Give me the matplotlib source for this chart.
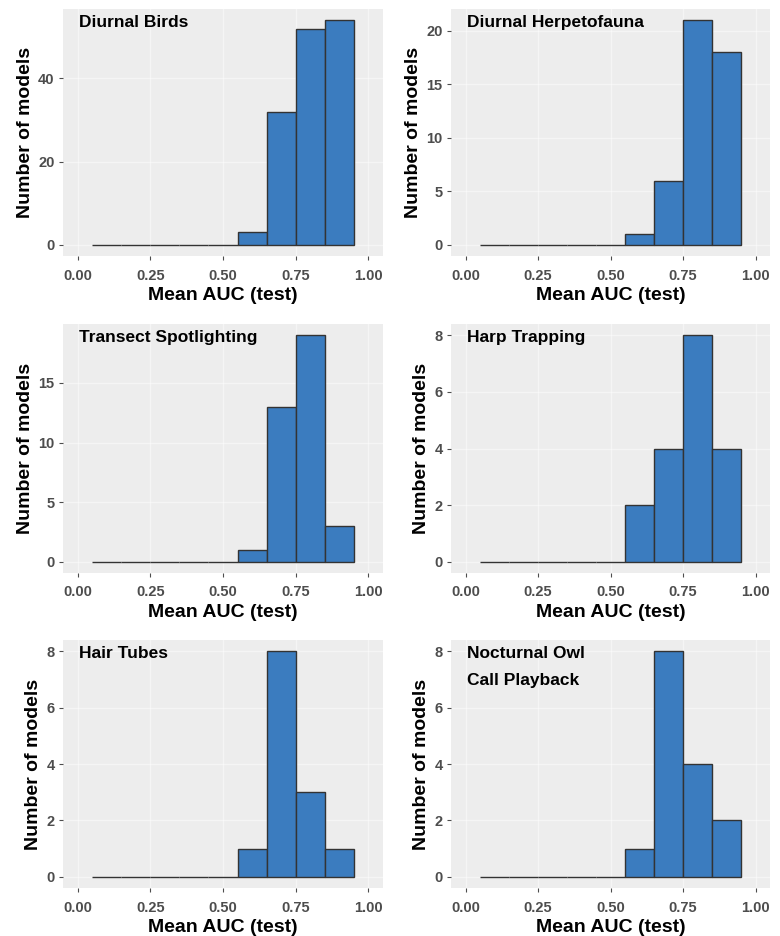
import numpy as np
import matplotlib
matplotlib.use("Agg")
import matplotlib.pyplot as plt

plt.rcParams['font.family'] = ['Liberation Sans', 'DejaVu Sans']

# histogram bins: width 0.1, centred on 0.1 ... 0.9
bin_centers = [0.1, 0.2, 0.3, 0.4, 0.5, 0.6, 0.7, 0.8, 0.9]

diurnal_birds = [0, 0, 0, 0, 0, 3, 32, 52, 54]
diurnal_herps = [0, 0, 0, 0, 0, 1, 6, 21, 18]
transect_spot = [0, 0, 0, 0, 0, 1, 13, 19, 3]
harp_trapping = [0, 0, 0, 0, 0, 2, 4, 8, 4]
hair_tubes = [0, 0, 0, 0, 0, 1, 8, 3, 1]
owl_playback = [0, 0, 0, 0, 0, 1, 8, 4, 2]

titles = ["Diurnal Birds", "Diurnal Herpetofauna", "Transect Spotlighting",
          "Harp Trapping", "Hair Tubes", "Nocturnal Owl\nCall Playback"]
counts = [diurnal_birds, diurnal_herps, transect_spot,
          harp_trapping, hair_tubes, owl_playback]
y_ticks = [[0, 20, 40], [0, 5, 10, 15, 20], [0, 5, 10, 15],
           [0, 2, 4, 6, 8], [0, 2, 4, 6, 8], [0, 2, 4, 6, 8]]
x_ticks = [0.0, 0.25, 0.5, 0.75, 1.0]
x_ticklabels = ["0.00", "0.25", "0.50", "0.75", "1.00"]

W, H = 780, 936
fig = plt.figure(figsize=(W / 100, H / 100), dpi=100)

# panel boxes in pixels: (left, top, right, bottom)
cols = [(63, 383), (451, 770)]
rows = [(9, 256), (324, 573), (640, 888)]

for i, (title, c) in enumerate(zip(titles, counts)):
    l, r = cols[i % 2]
    t, b = rows[i // 2]
    ax = fig.add_axes([l / W, 1 - b / H, (r - l) / W, (b - t) / H])
    ax.set_facecolor("#ededed")
    for s in ax.spines.values():
        s.set_visible(False)
    ax.grid(True, color="white", linewidth=1.0, alpha=0.45)
    ax.set_axisbelow(True)

    ax.bar(bin_centers, c, width=0.1, color="#3b7cbf",
           edgecolor="#333333", linewidth=1.0, zorder=3)

    ymax = max(c)
    ax.set_xlim(-0.05, 1.05)
    ax.set_ylim(-0.05 * ymax, 1.05 * ymax)
    ax.set_xticks(x_ticks)
    ax.set_xticklabels(x_ticklabels)
    ax.set_yticks(y_ticks[i])
    ax.tick_params(colors="#4d4d4d", labelsize=10.5, length=3, width=0.8,
                   labelcolor="#4d4d4d", pad=3)
    ax.tick_params(axis="x", pad=6)
    for lab in ax.get_xticklabels() + ax.get_yticklabels():
        lab.set_fontweight("bold")

    ax.set_xlabel("Mean AUC (test)", fontsize=14, fontweight="bold", labelpad=3)
    ax.set_ylabel("Number of models", fontsize=14, fontweight="bold", labelpad=3)

    ax.text(0.05, 0.975, title, transform=ax.transAxes, ha="left", va="top",
            fontsize=12.5, fontweight="bold", linespacing=1.95, zorder=5)

fig.savefig("out.png", dpi=100)
